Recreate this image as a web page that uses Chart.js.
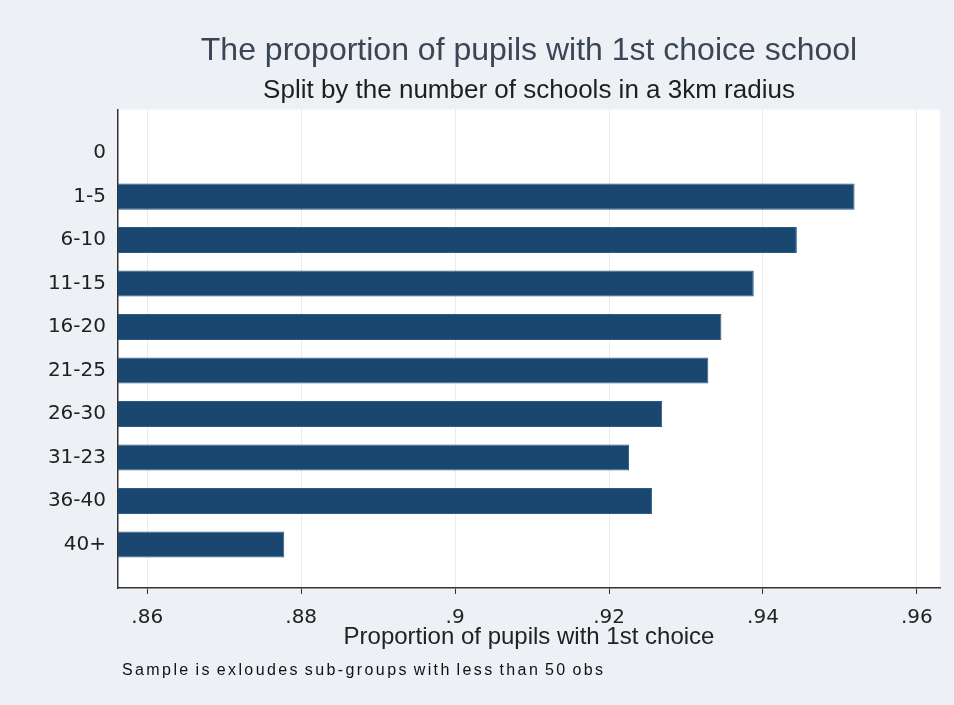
<!DOCTYPE html>
<html lang="en">
<head>
<meta charset="UTF-8">
<title>The proportion of pupils with 1st choice school</title>
<script src="https://cdn.jsdelivr.net/npm/chart.js"></script>
<style>
    html, body { margin: 0; padding: 0; background: #edf1f5; }
</style>
</head>
<body>
<canvas id="grafico" width="954" height="705"></canvas>
<script>
// valores
const categories = ['0', '1-5', '6-10', '11-15', '16-20', '21-25', '26-30', '31-23', '36-40', '40+'];
const proportion = [null, 0.9519, 0.9444, 0.9388, 0.9346, 0.9329, 0.9269, 0.9226, 0.9256, 0.8778];
const xTicks = [0.86, 0.88, 0.90, 0.92, 0.94, 0.96];

const navy = '#1a476f';

// fundo branco da area do grafico
const plotBg = {
    id: 'plotBg',
    beforeDraw(chart) {
        const a = chart.chartArea;
        const c = chart.ctx;
        c.save();
        c.fillStyle = '#ffffff';
        c.fillRect(a.left, a.top, a.right - a.left, a.bottom - a.top);
        c.restore();
    }
};

// nota de rodape
const note = {
    id: 'note',
    afterDraw(chart) {
        const c = chart.ctx;
        c.save();
        c.font = '16px "Liberation Sans", Arial, sans-serif';
        c.letterSpacing = '2.4px';
        c.wordSpacing = '-2px';
        c.fillStyle = '#111111';
        c.textBaseline = 'middle';
        c.textAlign = 'left';
        c.fillText('Sample is exloudes sub-groups with less than 50 obs', 122, 671);
        c.restore();
    }
};

new Chart(document.getElementById('grafico'), {
    type: 'bar',
    data: {
        labels: categories,
        datasets: [{
            data: proportion.map((v, i) => ({ x: v, y: i })),
            backgroundColor: navy,
            borderColor: '#2c5b85',
            borderWidth: 1,
            barPercentage: 0.6,
            categoryPercentage: 1
        }]
    },
    options: {
        responsive: false,
        animation: false,
        indexAxis: 'y',
        layout: { padding: { left: 0, right: 14, top: 0, bottom: 53 } },
        scales: {
            x: {
                type: 'linear',
                min: 0.8562,
                max: 0.963,
                afterBuildTicks: s => { s.ticks = xTicks.map(v => ({ value: v })); },
                afterFit: s => { s.height = 64; },
                grid: { color: '#ebebeb', tickColor: '#333333', tickLength: 6 },
                border: { color: '#333333', width: 1.5 },
                ticks: {
                    color: '#222222',
                    padding: 12,
                    font: { family: 'DejaVu Sans', size: 20 },
                    callback: v => String(Math.round(v * 100) / 100).replace(/^0/, '')
                },
                title: {
                    display: true,
                    text: 'Proportion of pupils with 1st choice',
                    color: '#222222',
                    padding: 0,
                    font: { family: 'Liberation Sans', size: 24 }
                }
            },
            y: {
                type: 'linear',
                min: -1,
                max: 10,
                offset: false,
                reverse: true,
                afterBuildTicks: s => { s.ticks = categories.map((c, i) => ({ value: i })); },
                afterFit: s => { s.width = 118; },
                grid: { display: false, drawTicks: false },
                border: { color: '#333333', width: 1.5 },
                ticks: {
                    color: '#222222',
                    padding: 12,
                    autoSkip: false,
                    font: { family: 'DejaVu Sans', size: 20 },
                    callback: v => categories[v]
                }
            }
        },
        plugins: {
            legend: { display: false },
            tooltip: { enabled: false },
            title: {
                display: true,
                fullSize: false,
                text: 'The proportion of pupils with 1st choice school',
                color: '#3a4556',
                font: { family: 'Liberation Sans', size: 32, weight: 'normal' },
                padding: { top: 32, bottom: 0 }
            },
            subtitle: {
                display: true,
                fullSize: false,
                text: 'Split by the number of schools in a 3km radius',
                color: '#1e1e1e',
                font: { family: 'Liberation Sans', size: 26, weight: 'normal' },
                padding: { top: 5, bottom: 3 }
            }
        }
    },
    plugins: [plotBg, note]
});
</script>
</body>
</html>
